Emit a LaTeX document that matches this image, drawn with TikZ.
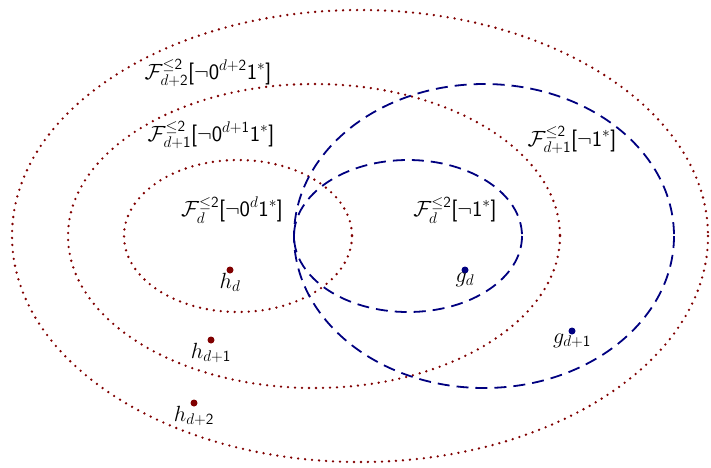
\RequirePackage{fix-cm}
\documentclass[tikz,border=0pt]{standalone}
\usepackage{amsmath,amssymb}
\usepackage{xcolor}
\usetikzlibrary{positioning}
\definecolor{setred}{RGB}{128,0,0}
\definecolor{setblue}{RGB}{0,0,128}
\newcommand{\dg}[1]{\textsf{#1}}

\begin{document}
\begin{tikzpicture}[
  x=1pt,y=-1pt,
  redset/.style={setred,line width=2.6pt,line cap=round,dash pattern=on 0pt off 7pt},
  blueset/.style={setblue,line width=1.8pt,dash pattern=on 12pt off 7pt},
  lbl/.style={font=\fontsize{22}{26}\selectfont,inner sep=1pt},
  dotpt/.style={circle,inner sep=0pt,minimum size=7pt}
]
\useasboundingbox (0,0) rectangle (711,467);
% the nested families
\draw[redset] (360,236) ellipse [x radius=348, y radius=226];
\draw[redset] (314,236) ellipse [x radius=246, y radius=152];
\draw[redset] (238,236) ellipse [x radius=114, y radius=76];
\draw[blueset] (484,236) ellipse [x radius=190, y radius=152];
\draw[blueset] (408,236) ellipse [x radius=114, y radius=76];
% set names
\node[lbl] (fdtwo) at (208,73) {$\mathcal{F}^{\le\dg{2}}_{d+\dg{2}}\dg{[}\neg\dg{0}^{d+\dg{2}}\dg{1}^*\dg{]}$};
\node[lbl] (fdone) at (211,135) {$\mathcal{F}^{\le\dg{2}}_{d+\dg{1}}\dg{[}\neg\dg{0}^{d+\dg{1}}\dg{1}^*\dg{]}$};
\node[lbl] (fd) at (232,210) {$\mathcal{F}^{\le\dg{2}}_{d}\dg{[}\neg\dg{0}^{d}\dg{1}^*\dg{]}$};
\node[lbl] (gfd) at (455,210) {$\mathcal{F}^{\le\dg{2}}_{d}\dg{[}\neg\dg{1}^*\dg{]}$};
\node[lbl] (gfdone) at (572,140) {$\mathcal{F}^{\le\dg{2}}_{d+\dg{1}}\dg{[}\neg\dg{1}^*\dg{]}$};
% points
\node[dotpt,fill=setred] (hd) at (230,270) {};
\node[dotpt,fill=setred] (hdone) at (211,340) {};
\node[dotpt,fill=setred] (hdtwo) at (194,403) {};
\node[dotpt,fill=setblue] (gd) at (465,270) {};
\node[dotpt,fill=setblue] (gdone) at (572,331) {};
\node[lbl,below=-2pt of hd] (hdl) {$h_d$};
\node[lbl,below=-2pt of hdone] (hdonel) {$h_{d+\dg{1}}$};
\node[lbl,below=-2pt of hdtwo] (hdtwol) {$h_{d+\dg{2}}$};
\node[lbl,below=-2pt of gd] (gdl) {$g_d$};
\node[lbl,below=-2pt of gdone] (gdonel) {$g_{d+\dg{1}}$};
\end{tikzpicture}
\end{document}
